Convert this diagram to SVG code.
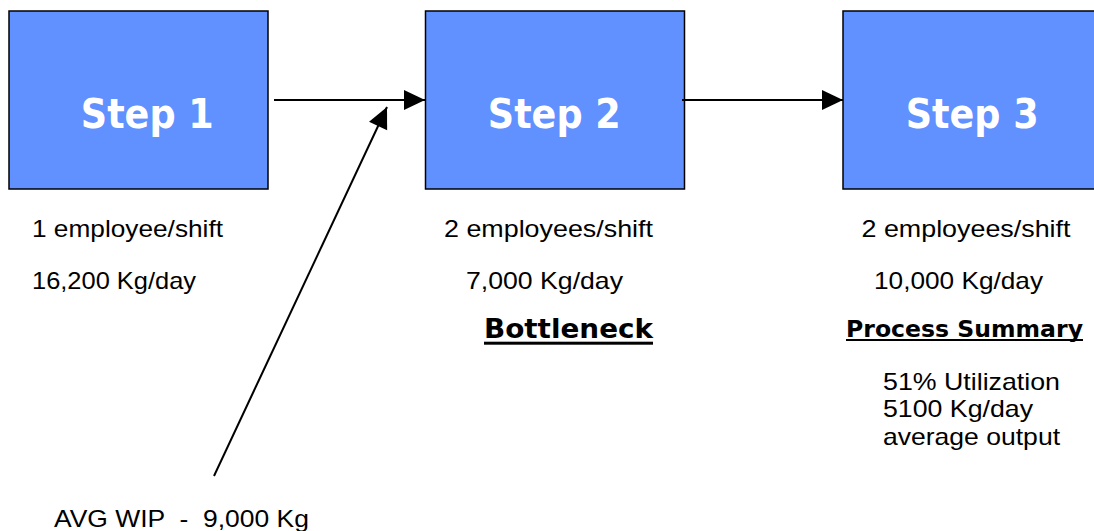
<svg xmlns="http://www.w3.org/2000/svg" width="1094" height="531" viewBox="0 0 1094 531">
  <style>
    .box { fill: #6190FF; stroke: #000; stroke-width: 1.5; }
    .step { font-family: "DejaVu Sans", "Liberation Sans", sans-serif; font-weight: bold; font-size: 41px; fill: #fff; text-anchor: middle; }
    .body { font-family: "Liberation Sans", Arial, sans-serif; font-size: 24px; fill: #000; }
    .head { font-family: "DejaVu Sans", "Liberation Sans", sans-serif; font-weight: bold; fill: #000; }
    .conn { stroke: #000; stroke-width: 2; fill: none; marker-end: url(#arrow); }
  </style>
  <defs>
    <marker id="arrow" markerUnits="userSpaceOnUse" markerWidth="21" markerHeight="20" refX="21" refY="10" orient="auto" overflow="visible">
      <path d="M0,0 L21,10 L0,20 Z" fill="#000"/>
    </marker>
  </defs>
  <rect width="1094" height="531" fill="#fff"/>

  <g id="step1">
    <rect class="box" x="9" y="11" width="259" height="178"/>
    <text class="step" x="147.3" y="128" textLength="133" lengthAdjust="spacingAndGlyphs">Step 1</text>
  </g>
  <g id="step2">
    <rect class="box" x="425.5" y="11" width="259" height="178"/>
    <text class="step" x="554.3" y="128" textLength="133" lengthAdjust="spacingAndGlyphs">Step 2</text>
  </g>
  <g id="step3">
    <rect class="box" x="843" y="11" width="259" height="178"/>
    <text class="step" x="972.2" y="128" textLength="133" lengthAdjust="spacingAndGlyphs">Step 3</text>
  </g>

  <g id="connectors">
    <line class="conn" x1="274" y1="100" x2="425" y2="100"/>
    <line class="conn" x1="682" y1="100" x2="843" y2="100"/>
    <line class="conn" x1="214" y1="476" x2="387" y2="107"/>
  </g>

  <g id="step1-info">
    <text class="body" x="32" y="236.5" textLength="191" lengthAdjust="spacingAndGlyphs">1 employee/shift</text>
    <text class="body" x="32" y="289" textLength="164" lengthAdjust="spacingAndGlyphs">16,200 Kg/day</text>
  </g>
  <g id="step2-info">
    <text class="body" x="444" y="236.5" textLength="209" lengthAdjust="spacingAndGlyphs">2 employees/shift</text>
    <text class="body" x="466" y="289" textLength="157" lengthAdjust="spacingAndGlyphs">7,000 Kg/day</text>
    <text class="head" x="484" y="338.3" font-size="26" textLength="169" lengthAdjust="spacingAndGlyphs">Bottleneck</text>
    <rect x="484" y="341.7" width="169" height="3" fill="#000"/>
  </g>
  <g id="step3-info">
    <text class="body" x="861.5" y="236.5" textLength="209" lengthAdjust="spacingAndGlyphs">2 employees/shift</text>
    <text class="body" x="874" y="289" textLength="169" lengthAdjust="spacingAndGlyphs">10,000 Kg/day</text>
  </g>
  <g id="summary">
    <text class="head" x="846" y="337.3" font-size="23" textLength="237" lengthAdjust="spacingAndGlyphs">Process Summary</text>
    <rect x="846" y="339" width="237" height="2" fill="#000"/>
    <text class="body" x="883" y="389.5" textLength="177" lengthAdjust="spacingAndGlyphs">51% Utilization</text>
    <text class="body" x="883" y="417" textLength="150" lengthAdjust="spacingAndGlyphs">5100 Kg/day</text>
    <text class="body" x="883" y="444.5" textLength="177" lengthAdjust="spacingAndGlyphs">average output</text>
  </g>
  <g id="wip">
    <text class="body" x="54" y="527.3" font-size="26" textLength="255" lengthAdjust="spacingAndGlyphs" xml:space="preserve">AVG WIP  -  9,000 Kg</text>
  </g>
</svg>
